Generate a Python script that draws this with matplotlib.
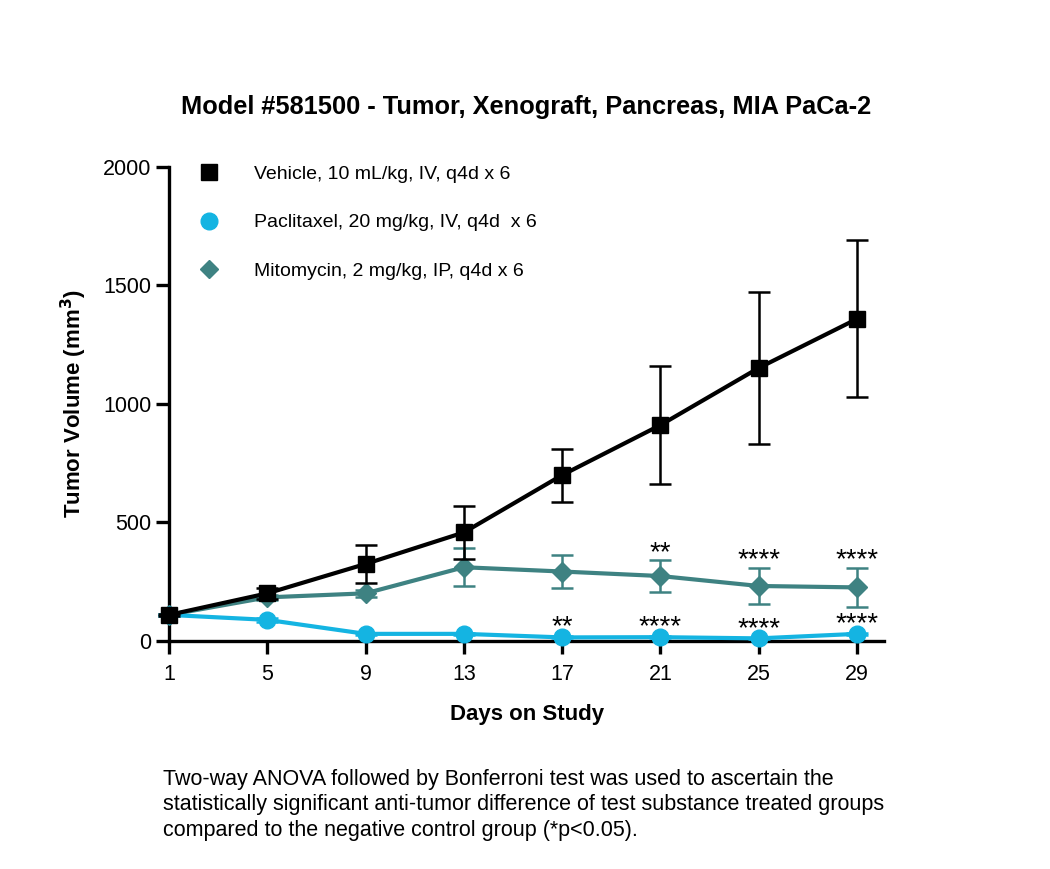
import matplotlib.pyplot as plt
from matplotlib.lines import Line2D

plt.rcParams['font.family'] = ['Liberation Sans', 'DejaVu Sans']

days = [1, 5, 9, 13, 17, 21, 25, 29]

vehicle = [110, 201, 325, 458, 700, 911, 1152, 1359]
vehicle_err = [4, 22, 80, 112, 112, 250, 319, 331]

paclitaxel = [110, 89, 30, 30, 15, 16, 11, 30]
paclitaxel_err = [3, 8, 5, 5, 4, 4, 3, 4]

mitomycin = [110, 184, 201, 311, 293, 274, 232, 226]
mitomycin_err = [3, 12, 15, 80, 68, 67, 76, 83]

# significance labels (None = not shown)
pac_stars = [None, None, None, None, '**', '****', '****', '****']
mit_stars = [None, None, None, None, None, '**', '****', '****']

labels = ['Vehicle, 10 mL/kg, IV, q4d x 6',
          'Paclitaxel, 20 mg/kg, IV, q4d  x 6',
          'Mitomycin, 2 mg/kg, IP, q4d x 6']

c_veh = 'black'
c_pac = '#14B4E2'
c_mit = '#3E8282'

fig = plt.figure(figsize=(10.5, 8.69), dpi=100)
ax = fig.add_axes([0.161, 0.2624, 0.681, 0.5455])

ax.errorbar(days, mitomycin, yerr=mitomycin_err, color=c_mit, lw=3, marker='D',
            ms=10, capsize=8, elinewidth=1.8, capthick=1.8, zorder=3, clip_on=False)
ax.errorbar(days, paclitaxel, yerr=paclitaxel_err, color=c_pac, lw=3, marker='o',
            ms=12, capsize=8, elinewidth=1.8, capthick=1.8, zorder=4, clip_on=False)
ax.errorbar(days, vehicle, yerr=vehicle_err, color=c_veh, lw=3, marker='s',
            ms=12, capsize=8, elinewidth=1.8, capthick=1.8, zorder=5, clip_on=False)

for d, v, e, s in zip(days, paclitaxel, paclitaxel_err, pac_stars):
    if s:
        ax.annotate(s, (d, v + e), xytext=(0, -3), textcoords='offset points',
                    ha='center', va='bottom', fontsize=20)
for d, v, e, s in zip(days, mitomycin, mitomycin_err, mit_stars):
    if s:
        ax.annotate(s, (d, v + e), xytext=(0, -4), textcoords='offset points',
                    ha='center', va='bottom', fontsize=20)

ax.set_xlim(1, 30.1)
ax.set_ylim(0, 2000)
ax.set_xticks(days)
ax.set_yticks([0, 500, 1000, 1500, 2000])
for side in ['top', 'right']:
    ax.spines[side].set_visible(False)
for side in ['left', 'bottom']:
    ax.spines[side].set_linewidth(2.4)
ax.tick_params(direction='out', length=9.5, width=2.4, labelsize=15.5)
ax.tick_params(axis='x', pad=7)
ax.tick_params(axis='y', pad=3)

ax.set_xlabel('Days on Study', fontsize=16, fontweight='bold', labelpad=14)
ax.set_ylabel('Tumor Volume (mm$^\\mathbf{3}$)', fontsize=16, fontweight='bold', labelpad=10)
ax.set_title('Model #581500 - Tumor, Xenograft, Pancreas, MIA PaCa-2',
             fontsize=18.3, fontweight='bold', pad=38)

handles = [Line2D([], [], ls='none', marker='s', ms=12, color=c_veh),
           Line2D([], [], ls='none', marker='o', ms=12, color=c_pac),
           Line2D([], [], ls='none', marker='D', ms=9, color=c_mit)]
ax.legend(handles, labels, loc='upper left', bbox_to_anchor=(0.0105, 1.04),
          frameon=False, fontsize=14, handletextpad=1.6, labelspacing=1.58,
          handlelength=1.5)

fig.text(0.155, 0.032,
         'Two-way ANOVA followed by Bonferroni test was used to ascertain the\n'
         'statistically significant anti-tumor difference of test substance treated groups\n'
         'compared to the negative control group (*p<0.05).',
         fontsize=15.5, linespacing=1.3, ha='left', va='bottom')

fig.savefig('out.png', dpi=100)
